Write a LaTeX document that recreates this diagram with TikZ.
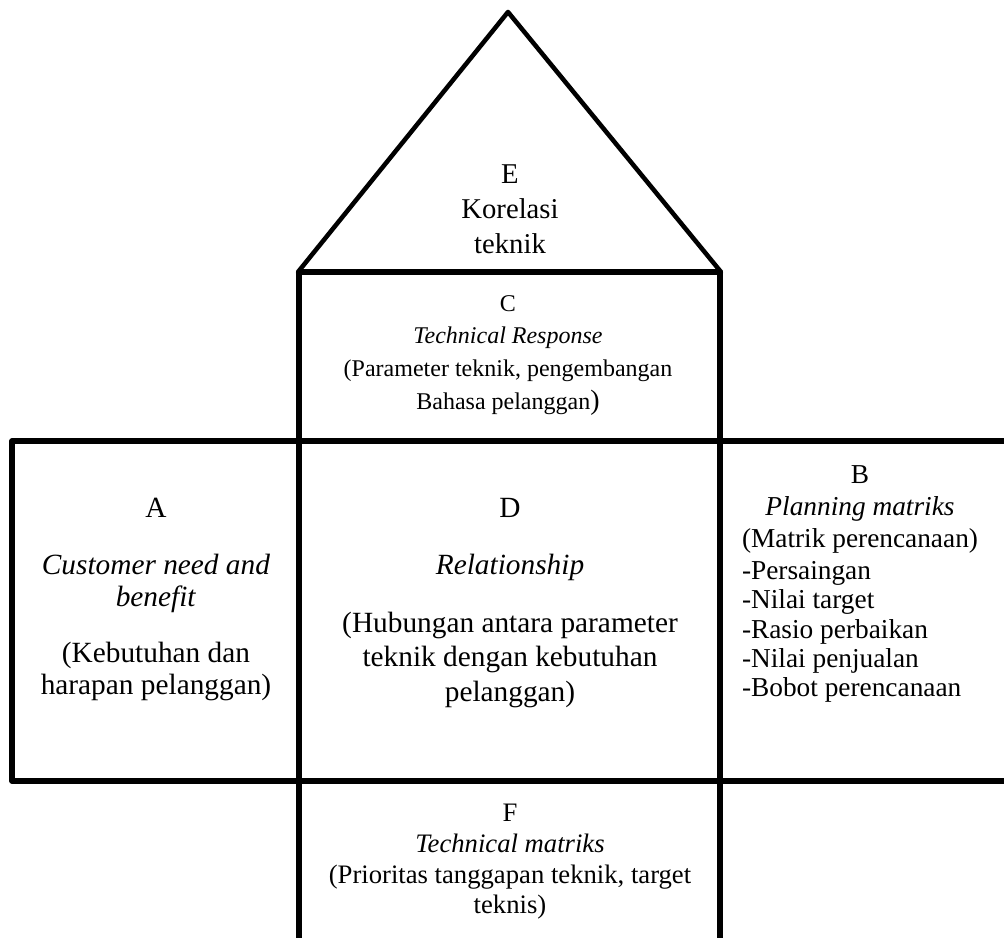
\documentclass[tikz,border=0pt]{standalone}
\usepackage{fontspec}
\setmainfont{Liberation Serif}
\usepackage{tikz}
\usetikzlibrary{positioning}
\tikzstyle{wall}=[draw, line width=4pt, line join=round]
\tikzstyle{roof}=[draw, line width=3.4pt, line join=round]
\tikzstyle{roofbase}=[draw, line width=5pt]
\tikzstyle{roomtext}=[align=center, inner sep=0pt, anchor=north]
\newcommand{\hqsize}[2]{\fontsize{#1}{#2}\selectfont}
\newcommand{\hqroom}[4]{\node [roomtext, font=#2] (#1) at #3 {#4};}

\begin{document}
\begin{tikzpicture}[x=0.75pt, y=-0.75pt]
\useasboundingbox (0,0) rectangle (1004,938);
% frame points
\coordinate (apex) at (508,12);
\coordinate (roofL) at (298,272);
\coordinate (roofR) at (721,272);
\coordinate (colLbot) at (299,938);
\coordinate (colRbot) at (720,938);
\coordinate (wallNW) at (12,441);
\coordinate (wallNE) at (1004,441);
\coordinate (wallSW) at (12,781);
\coordinate (wallSE) at (1004,781);
% roof and columns
\draw [roof] (roofL) -- (apex) -- (roofR) -- cycle;
\draw [roofbase] (roofL) -- (roofR);
\draw [wall] (roofL -| colLbot) -- (colLbot);
\draw [wall] (roofR -| colRbot) -- (colRbot);
% left room and the two cross walls
\draw [wall] (wallNE) -- (wallNW) -- (wallSW) -- (wallSE);
% texts
\hqroom{roomE}{\hqsize{21.5}{26.25}}{(510,164)}{E\\Korelasi\\teknik}
\hqroom{roomC}{\hqsize{18}{24.5}}{(508,295)}{C\\\textit{Technical Response}\\(Parameter teknik, pengembangan\\Bahasa pelanggan{\hqsize{21}{24.5})}}
\hqroom{roomD}{\hqsize{22}{26}}{(510,498)}{D\\[17pt]\textit{Relationship}\\[17pt](Hubungan antara parameter\\teknik dengan kebutuhan\\pelanggan)}
\hqroom{roomA}{\hqsize{22}{24}}{(156,498)}{A\\[18.5pt]\textit{Customer need and}\\\textit{benefit}\\[18.5pt](Kebutuhan dan\\harapan pelanggan)}
\hqroom{roomB}{\hqsize{20.5}{24}}{(860,465)}{B\\\textit{Planning matriks}\\(Matrik perencanaan)}
\node [roomtext, align=left, font=\hqsize{20.5}{22}, below right=6pt and 0pt of roomB.south west] (listB) {-Persaingan\\-Nilai target\\-Rasio perbaikan\\-Nilai penjualan\\-Bobot perencanaan};
\hqroom{roomF}{\hqsize{20}{23}}{(510,804)}{F\\\textit{Technical matriks}\\(Prioritas tanggapan teknik, target\\teknis)}
\end{tikzpicture}
\end{document}
